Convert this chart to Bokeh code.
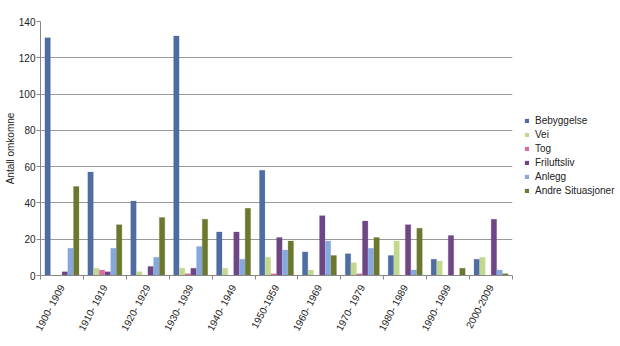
import math
from bokeh.plotting import figure
from bokeh.models import ColumnDataSource, Range1d, FixedTicker, Legend, LegendItem
from bokeh.embed import file_html
from bokeh.resources import INLINE

decades = ["1900- 1909", "1910- 1919", "1920- 1929", "1930- 1939", "1940- 1949",
           "1950-1959", "1960- 1969", "1970- 1979", "1980- 1989", "1990- 1999", "2000-2009"]
series_names = ["Bebyggelse", "Vei", "Tog", "Friluftsliv", "Anlegg", "Andre Situasjoner"]
bebyggelse = [131, 57, 41, 132, 24, 58, 13, 12, 11, 9, 9]
vei = [0, 4, 2, 4, 4, 10, 3, 7, 19, 8, 10]
tog = [0, 3, 0, 1, 0, 1, 0, 1, 0, 0, 0]
friluftsliv = [2, 2, 5, 4, 24, 21, 33, 30, 28, 22, 31]
anlegg = [15, 15, 10, 16, 9, 14, 19, 15, 3, 0, 3]
andre = [49, 28, 32, 31, 37, 19, 11, 21, 26, 4, 1]
colors = ["#4F6CA3", "#C2D88F", "#D56FA3", "#6E4685", "#86A8DE", "#6A7830"]
y_ticks = [0, 20, 40, 60, 80, 100, 120, 140]

all_series = [bebyggelse, vei, tog, friluftsliv, anlegg, andre]
n = len(decades)
centers = [i + 0.5 for i in range(n)]

p = figure(frame_width=472, frame_height=254, output_backend="svg", toolbar_location=None,
           x_range=Range1d(0, n), y_range=Range1d(0, 140),
           min_border_left=40, min_border_right=0, min_border_top=21, min_border_bottom=71)
p.outline_line_color = None
p.background_fill_color = "white"
p.border_fill_color = "white"

bw = 0.8 / 6
renderers = []
for k, (name, vals, col) in enumerate(zip(series_names, all_series, colors)):
    src = ColumnDataSource(dict(x=[c + (k - 2.5) * bw for c in centers], top=vals))
    r = p.vbar(x="x", top="top", width=bw * 0.95, source=src, fill_color=col,
               line_color=col, line_alpha=0.5, line_width=0.5)
    renderers.append(LegendItem(label=name, renderers=[r]))

# axes
p.xaxis.ticker = FixedTicker(ticks=centers, minor_ticks=list(range(n + 1)))
p.xaxis.major_label_overrides = {c: d for c, d in zip(centers, decades)}
p.xaxis.major_tick_line_color = None
p.xaxis.minor_tick_line_color = "#888888"
p.xaxis.minor_tick_out = 4
p.xaxis.minor_tick_in = 0
p.xaxis.axis_line_color = "#888888"
p.xaxis.major_label_orientation = math.radians(62)
p.xaxis.major_label_text_font = "Liberation Sans"
p.xaxis.major_label_text_font_size = "10px"
p.xaxis.major_label_text_color = "#222222"
p.xaxis.major_label_standoff = 4
p.xgrid.grid_line_color = None

p.yaxis.ticker = FixedTicker(ticks=y_ticks)
p.yaxis.minor_tick_line_color = None
p.yaxis.major_tick_line_color = "#888888"
p.yaxis.major_tick_out = 4
p.yaxis.major_tick_in = 0
p.yaxis.axis_line_color = "#888888"
p.yaxis.major_label_text_font = "Liberation Sans"
p.yaxis.major_label_text_font_size = "10px"
p.yaxis.major_label_text_color = "#222222"
p.yaxis.major_label_standoff = 1
p.yaxis.axis_label = "Antall omkomne"
p.yaxis.axis_label_text_font = "Liberation Sans"
p.yaxis.axis_label_text_font_size = "10px"
p.yaxis.axis_label_text_font_style = "normal"
p.yaxis.axis_label_text_color = "#222222"
p.yaxis.axis_label_standoff = 0
p.ygrid.grid_line_color = "#999999"
p.ygrid.grid_line_width = 1

legend = Legend(items=renderers, location=(12, 79), orientation="vertical",
                label_text_font="Liberation Sans", label_text_font_size="10px",
                label_text_color="#222222", glyph_width=5, glyph_height=5,
                label_height=11, spacing=3, padding=0, margin=0,
                border_line_color=None, background_fill_alpha=0, label_standoff=6)
p.add_layout(legend, "right")

open("out.html", "w").write(file_html(p, INLINE))
